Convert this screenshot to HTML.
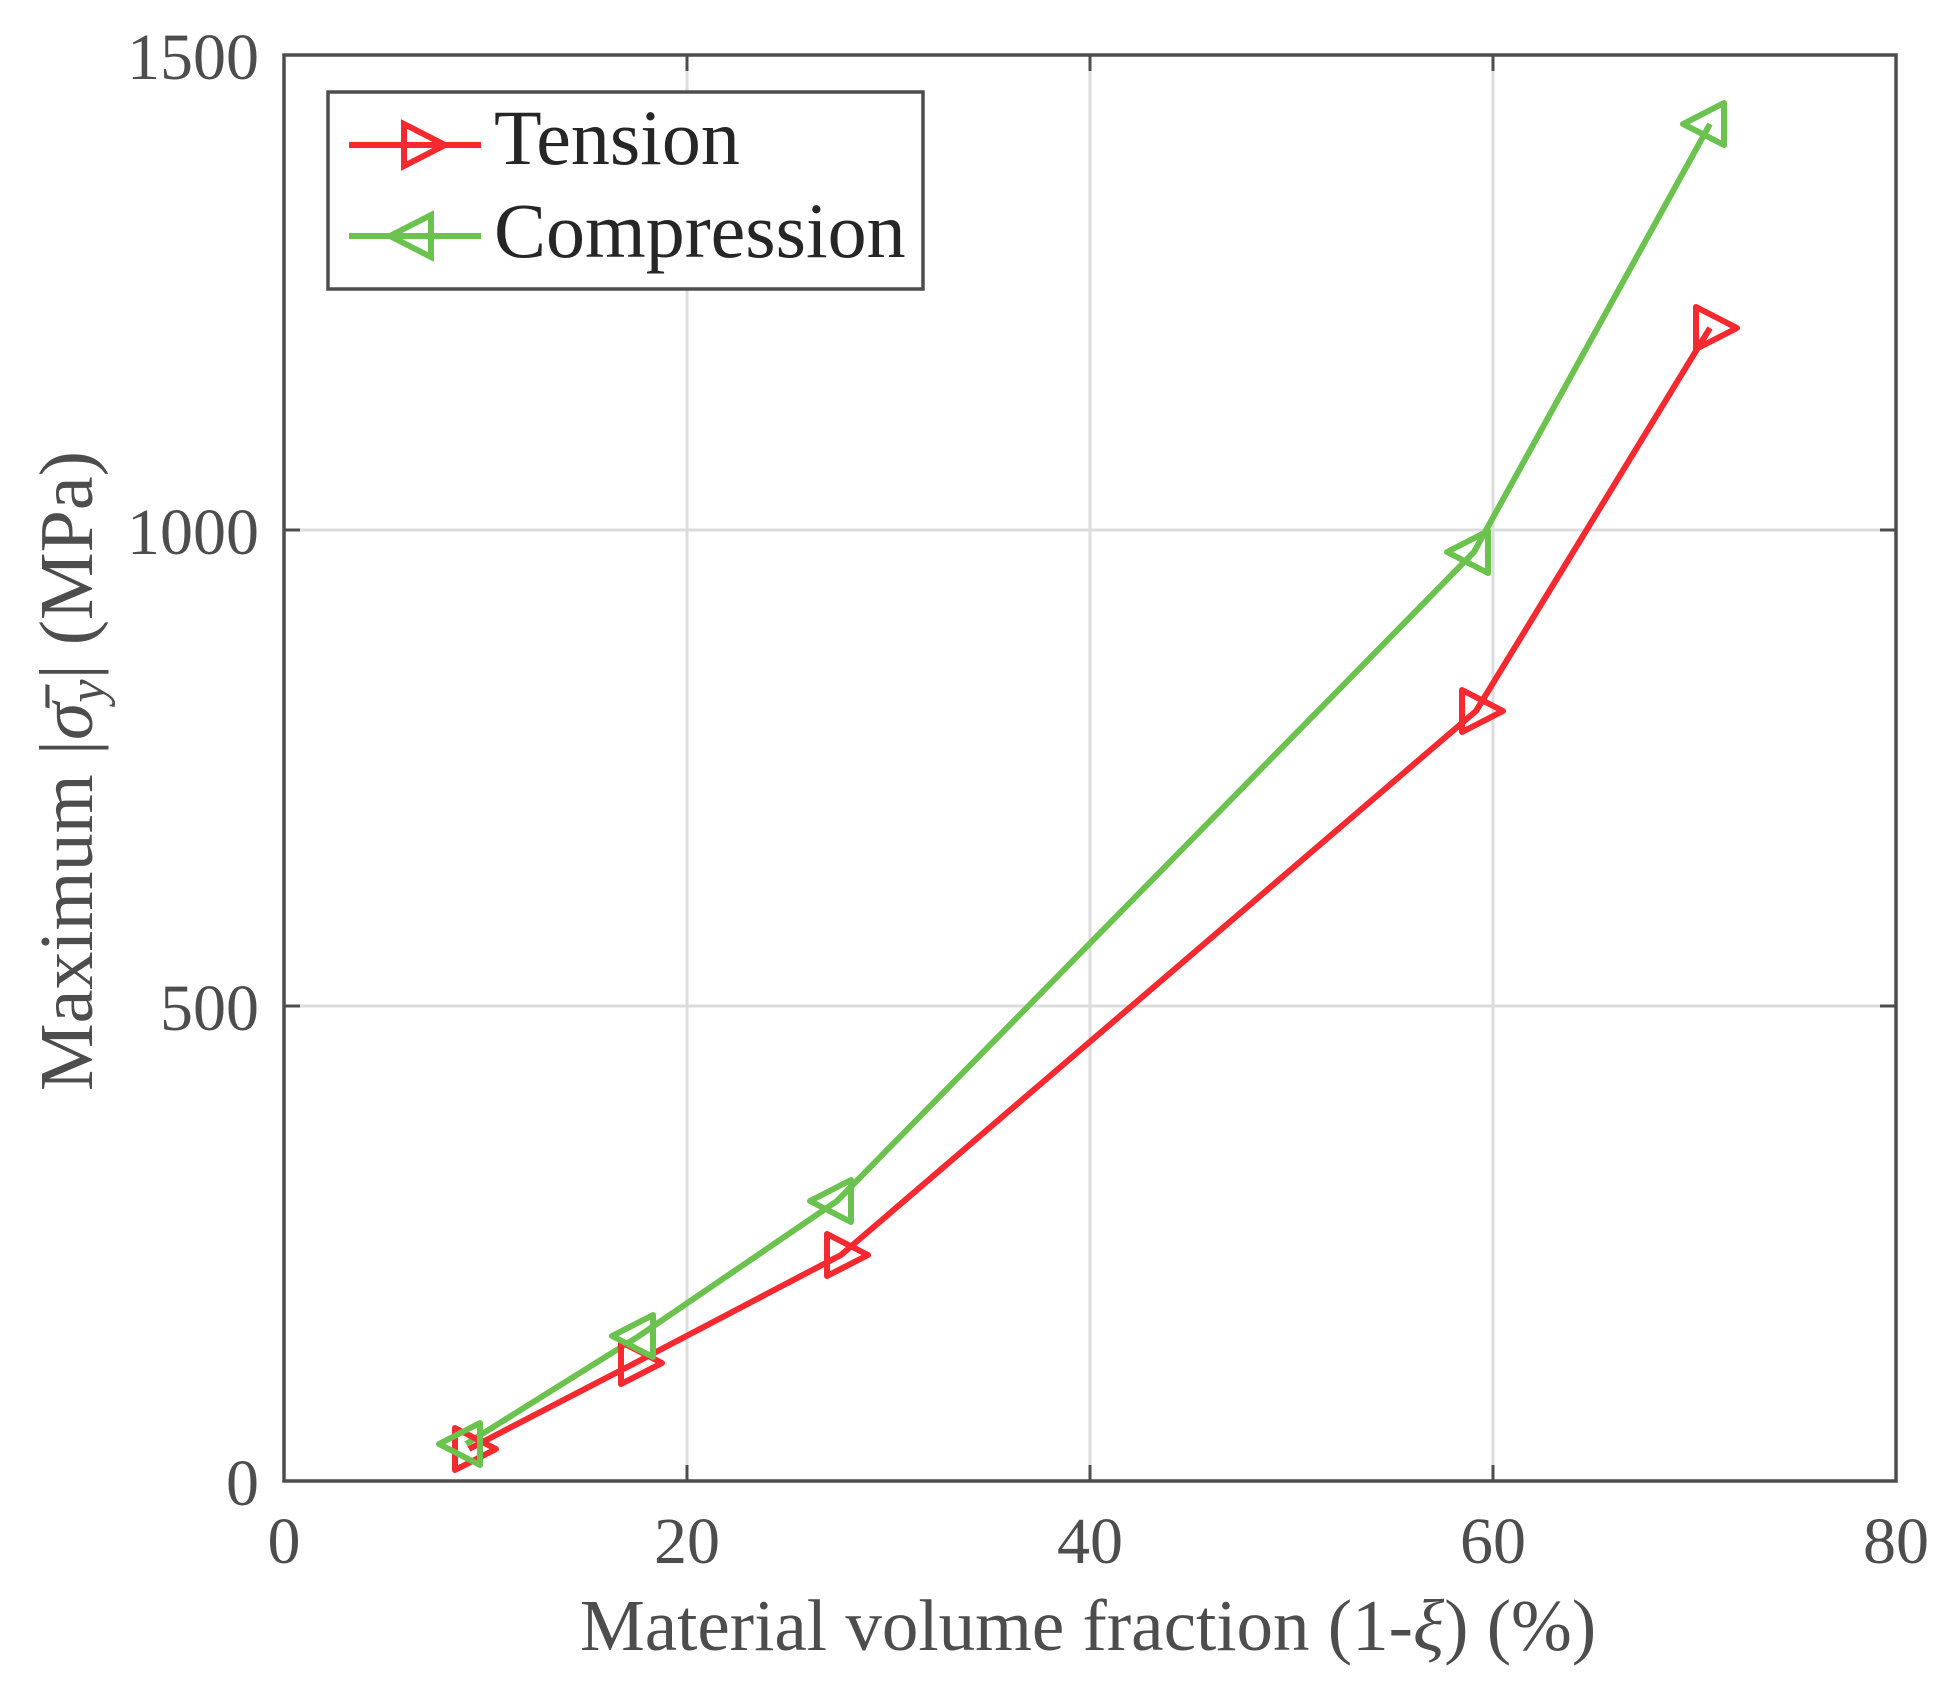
<!DOCTYPE html>
<html><head><meta charset="utf-8"><style>
html,body{margin:0;padding:0;background:#fff;}
svg{display:block;}
text{font-family:"Liberation Serif",serif;fill:#4d4d4d;}
</style></head><body>
<svg width="1946" height="1688" viewBox="0 0 1946 1688" xmlns="http://www.w3.org/2000/svg">
<rect width="1946" height="1688" fill="#fff"/>
<g stroke="#dcdcdc" stroke-width="3">
<line x1="687" y1="55" x2="687" y2="1481"/>
<line x1="1090" y1="55" x2="1090" y2="1481"/>
<line x1="1493" y1="55" x2="1493" y2="1481"/>
<line x1="284" y1="1006" x2="1896" y2="1006"/>
<line x1="284" y1="530" x2="1896" y2="530"/>
</g>
<g stroke="#4d4d4d" stroke-width="3">
<line x1="687" y1="1481" x2="687" y2="1465"/><line x1="1090" y1="1481" x2="1090" y2="1465"/><line x1="1493" y1="1481" x2="1493" y2="1465"/>
<line x1="687" y1="55" x2="687" y2="71"/><line x1="1090" y1="55" x2="1090" y2="71"/><line x1="1493" y1="55" x2="1493" y2="71"/>
<line x1="284" y1="1006" x2="300" y2="1006"/><line x1="284" y1="530" x2="300" y2="530"/>
<line x1="1896" y1="1006" x2="1880" y2="1006"/><line x1="1896" y1="530" x2="1880" y2="530"/>
</g>
<rect x="284" y="55" width="1612" height="1426" fill="none" stroke="#4d4d4d" stroke-width="3.5"/>
<g font-size="66" text-anchor="end">
<text x="259" y="1505">0</text>
<text x="259" y="1030">500</text>
<text x="259" y="554">1000</text>
<text x="259" y="79">1500</text>
</g>
<g font-size="66" text-anchor="middle">
<text x="284" y="1563">0</text>
<text x="687" y="1563">20</text>
<text x="1090" y="1563">40</text>
<text x="1493" y="1563">60</text>
<text x="1896" y="1563">80</text>
</g>
<text x="1088" y="1650" font-size="73" text-anchor="middle">Material volume fraction (1-<tspan font-style="italic">ξ</tspan>) (%)</text>
<text transform="translate(92,771) rotate(-90)" font-size="76" text-anchor="middle">Maximum  |<tspan font-style="italic">σ̄</tspan><tspan font-style="italic" font-size="52" dy="12">y</tspan><tspan dy="-12">|  (MPa)</tspan></text>
<g fill="none" stroke-width="6" stroke-linejoin="round">
<polyline stroke="#f5292f" points="469,1449 635,1363 841,1255 1476,711 1710,328"/>
<polyline stroke="#6cc24f" points="466,1444 639,1336 837,1201 1474,552 1710,124"/>
<g stroke="#f5292f">
<polygon points="455,1428 496,1449 455,1470"/>
<polygon points="621,1342 662,1363 621,1384"/>
<polygon points="827,1234 868,1255 827,1276"/>
<polygon points="1462,690 1503,711 1462,732"/>
<polygon points="1696,307 1737,328 1696,349"/>
</g>
<g stroke="#6cc24f">
<polygon points="480,1423 439,1444 480,1465"/>
<polygon points="653,1315 612,1336 653,1357"/>
<polygon points="851,1180 810,1201 851,1222"/>
<polygon points="1488,531 1447,552 1488,573"/>
<polygon points="1724,103 1683,124 1724,145"/>
</g>
</g>
<rect x="328" y="92" width="595" height="197" fill="#fff" stroke="#4d4d4d" stroke-width="3.5"/>
<line x1="349" y1="145" x2="481" y2="145" stroke="#f5292f" stroke-width="6"/>
<polygon points="404,124 445,145 404,166" fill="none" stroke="#f5292f" stroke-width="6"/>
<line x1="349" y1="236" x2="481" y2="236" stroke="#6cc24f" stroke-width="6"/>
<polygon points="431,215 390,236 431,257" fill="none" stroke="#6cc24f" stroke-width="6"/>
<text x="494" y="164" font-size="78" style="fill:#262626">Tension</text>
<text x="494" y="257" font-size="78" style="fill:#262626">Compression</text>
</svg>
</body></html>
